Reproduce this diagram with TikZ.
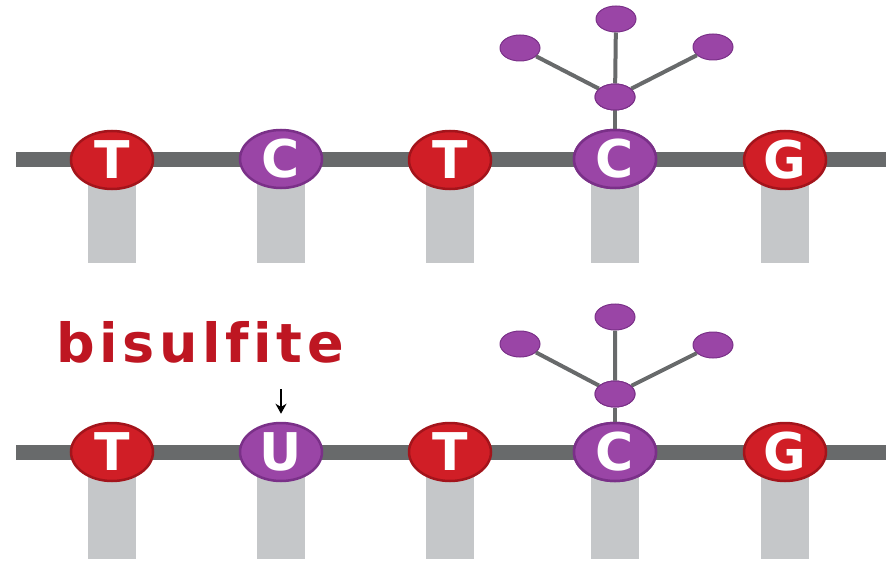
\documentclass[tikz,border=0pt]{standalone}
\usepackage{fontspec}
\setsansfont{DejaVu Sans}
\newfontfamily\bisfont{DejaVu Sans}[LetterSpace=8.5, Ligatures=NoCommon]
\usetikzlibrary{shapes.geometric,arrows.meta}
\definecolor{nred}{HTML}{D01E26}
\definecolor{nredd}{HTML}{A3141B}
\definecolor{npur}{HTML}{9A45A6}
\definecolor{npurd}{HTML}{7A3088}
\definecolor{bbone}{HTML}{686A6B}
\definecolor{bar}{HTML}{C5C7C9}
\definecolor{bisred}{HTML}{BE1622}
\tikzset{
  base/.style={shape=ellipse, minimum width=82pt, minimum height=58pt, inner sep=0pt, line width=2.5pt},
  redb/.style={base, fill=nred, draw=nredd},
  purb/.style={base, fill=npur, draw=npurd},
  lettr/.style={text=white, font=\sffamily\bfseries\fontsize{52}{52}\selectfont, inner sep=0pt},
  ball/.style={shape=ellipse, minimum width=40pt, minimum height=26pt, inner sep=0pt, fill=npur, draw=npurd, line width=1pt},
  stem/.style={draw=bbone, line width=4pt},
  backbone/.style={draw=bbone, line width=15pt},
}
\begin{document}
\begin{tikzpicture}[x=1pt,y=-1pt]
\useasboundingbox (0,0) rectangle (886,564);
% bars
\foreach \x in {112,281,450,615,785}{
  \fill[bar] (\x-24,160) rectangle (\x+24,263);
  \fill[bar] (\x-24,452) rectangle (\x+24,559);
}
% backbones
\coordinate (bl1) at (16,160); \coordinate (br1) at (886,160);
\coordinate (bl2) at (16,452); \coordinate (br2) at (886,452);
\draw[backbone] (bl1) -- (br1);
\draw[backbone] (bl2) -- (br2);
% top row methyl
\node[ball] (m1) at (615,97) {};
\node[ball] (m1t) at (616,19) {};
\node[ball] (m1l) at (520,48) {};
\node[ball] (m1r) at (713,47) {};
\draw[stem] (m1) -- (m1t) (m1) -- (m1l) (m1) -- (m1r);
% bottom row methyl
\node[ball] (m2) at (615,394) {};
\node[ball] (m2t) at (615,317) {};
\node[ball] (m2l) at (520,344) {};
\node[ball] (m2r) at (713,345) {};
\draw[stem] (m2) -- (m2t) (m2) -- (m2l) (m2) -- (m2r);
% top row nucleotides
\node[redb] (t1) at (112,160) {};
\node[purb] (c1) at (281,159) {};
\node[redb] (t2) at (450,160) {};
\node[purb] (c2) at (615,159) {};
\node[redb] (g1) at (785,160) {};
\draw[stem] (c2) -- (m1);
\node[purb] (c2b) at (615,159) {};
% bottom row nucleotides
\node[redb] (t3) at (112,452) {};
\node[purb] (u1) at (281,452) {};
\node[redb] (t4) at (450,452) {};
\node[purb] (c3) at (615,452) {};
\node[redb] (g2) at (785,452) {};
\draw[stem] (c3) -- (m2);
\node[purb] (c3b) at (615,452) {};
\node[ball] at (615,394) {};
\node[ball] at (615,97) {};
% letters
\node[lettr] at (t1) {T};
\node[lettr] at (c1) {C};
\node[lettr] at (t2) {T};
\node[lettr] at (c2b) {C};
\node[lettr] at (g1) {G};
\node[lettr] at (t3) {T};
\node[lettr] at (u1) {U};
\node[lettr] at (t4) {T};
\node[lettr] at (c3b) {C};
\node[lettr] at (g2) {G};
% bisulfite
\node[text=bisred, font=\bisfont\bfseries\fontsize{54}{54}\selectfont, anchor=base, inner sep=0pt] (bis) at (200,362) {bisulfite};
\coordinate (atop) at (281,389);
\draw[-{Stealth[length=10pt,width=11pt]}, line width=2.2pt, shorten >=8pt] (atop) -- (u1);
\end{tikzpicture}
\end{document}
